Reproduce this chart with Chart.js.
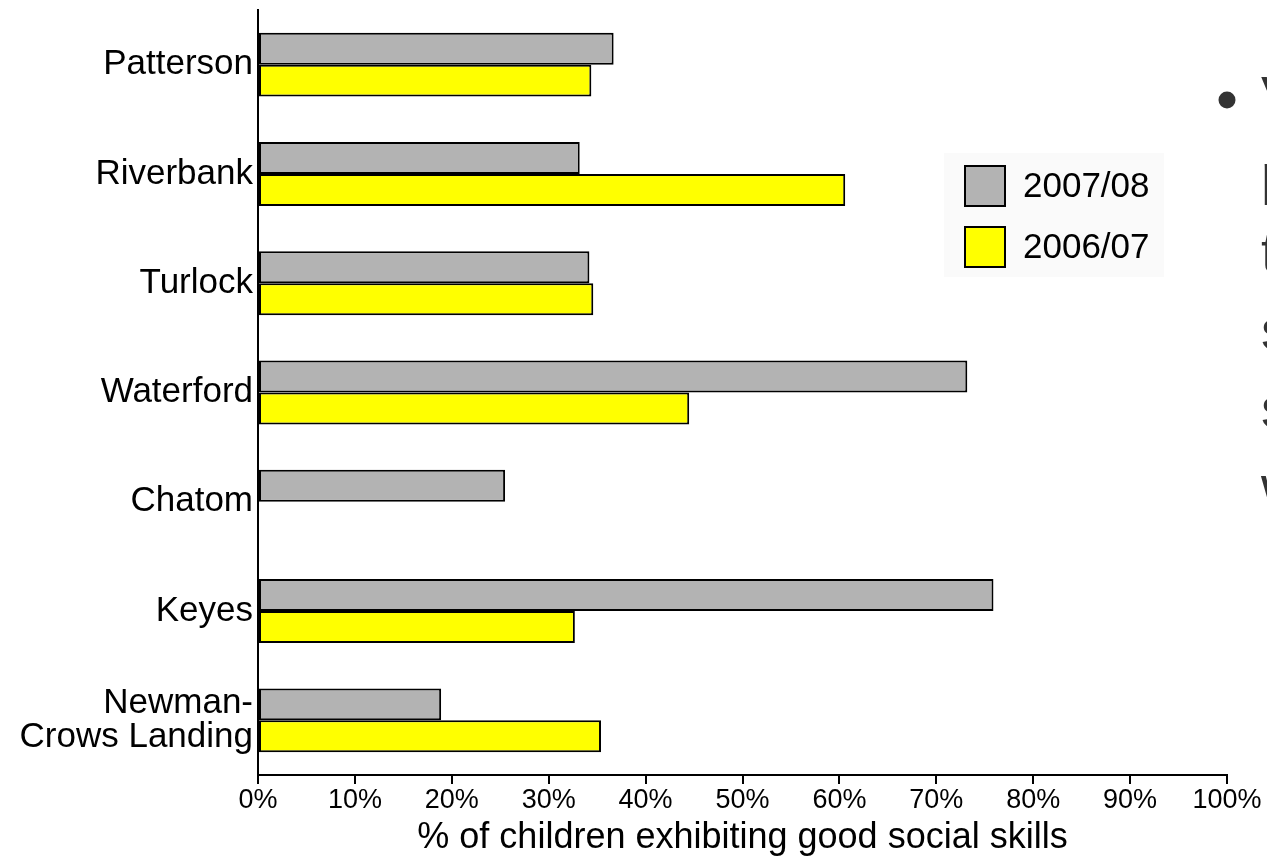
<!DOCTYPE html>
<html>
<head>
<meta charset="utf-8">
<script src="https://cdn.jsdelivr.net/npm/chart.js@4.4.0/dist/chart.umd.min.js"></script>
<style>
    html, body { margin: 0; padding: 0; background: #ffffff; }
    #wrap { width: 1267px; height: 860px; position: relative; }
</style>
</head>
<body>
<div id="wrap"><canvas id="chart"></canvas></div>
<script>
// categories, top to bottom
const schools = ['Patterson', 'Riverbank', 'Turlock', 'Waterford', 'Chatom', 'Keyes', ['Newman-', 'Crows Landing']];

// % of children exhibiting good social skills
const year0708 = [36.7, 33.2, 34.2, 73.2, 25.5, 75.9, 18.9];
const year0607 = [34.4, 60.6, 34.6, 44.5, null, 32.7, 35.4];

const seriesLabels = ['2007/08', '2006/07'];
const xTicks = [0, 10, 20, 30, 40, 50, 60, 70, 80, 90, 100];

// cut-off slide text on the right edge
const sideLines = ['Very', 'positive', 'trends', 'seen in', 'some', 'within'];

const FONT = "'Liberation Sans', Arial, sans-serif";

const sidePlugin = {
    id: 'sideStuff',
    afterDraw(chart) {
        const ctx = chart.ctx;
        ctx.save();

        // legend box
        ctx.fillStyle = '#fafafa';
        ctx.fillRect(944, 153, 220, 124);
        chart.data.datasets.forEach((ds, i) => {
            const y = 166 + i * 61;
            ctx.fillStyle = ds.backgroundColor;
            ctx.fillRect(965, y, 40, 40);
            ctx.lineWidth = 2;
            ctx.strokeStyle = '#000';
            ctx.strokeRect(965, y, 40, 40);
            ctx.fillStyle = '#000';
            ctx.font = '35px ' + FONT;
            ctx.textBaseline = 'middle';
            ctx.textAlign = 'left';
            ctx.fillText(ds.label, 1023, y + 21);
        });

        // bullet + text cut by the right border
        ctx.fillStyle = '#333333';
        ctx.beginPath();
        ctx.arc(1227, 100, 8.5, 0, Math.PI * 2);
        ctx.fill();
        ctx.font = '56px ' + FONT;
        ctx.textBaseline = 'alphabetic';
        sideLines.forEach((t, i) => {
            ctx.fillText(t, 1261, 115 + i * 78);
        });
        ctx.restore();
    }
};

new Chart(document.getElementById('chart'), {
    type: 'bar',
    data: {
        labels: schools,
        datasets: [{
            label: seriesLabels[0],
            data: year0708,
            backgroundColor: '#b3b3b3',
            borderColor: '#000000',
            borderWidth: 2,
            borderSkipped: false
        }, {
            label: seriesLabels[1],
            data: year0607,
            backgroundColor: '#ffff00',
            borderColor: '#000000',
            borderWidth: 2,
            borderSkipped: false
        }]
    },
    options: {
        indexAxis: 'y',
        responsive: true,
        maintainAspectRatio: false,
        animation: false,
        categoryPercentage: 0.585,
        barPercentage: 1,
        layout: { padding: { left: 0, right: 40, top: 10, bottom: 0 } },
        plugins: {
            legend: { display: false },
            tooltip: { enabled: false }
        },
        scales: {
            x: {
                min: 0,
                max: 100,
                afterBuildTicks: scale => { scale.ticks = xTicks.map(v => ({ value: v })); },
                afterFit: scale => { scale.height = 85; },
                ticks: {
                    color: '#000',
                    font: { family: FONT, size: 27 },
                    padding: 0,
                    maxRotation: 0,
                    autoSkip: false,
                    callback: v => v + '%'
                },
                grid: { drawOnChartArea: false, drawTicks: true, tickLength: 9, color: '#000', lineWidth: 2 },
                border: { display: true, color: '#000', width: 2 },
                title: {
                    display: true,
                    text: '% of children exhibiting good social skills',
                    color: '#000',
                    font: { family: FONT, size: 36 },
                    padding: { top: 0, bottom: 0 }
                }
            },
            y: {
                afterFit: scale => {
                    scale.width = 258;
                    scale.paddingTop = 0;
                    scale.paddingBottom = 0;
                },
                ticks: {
                    color: '#000',
                    font: { family: FONT, size: 35, lineHeight: 0.98 },
                    padding: 5,
                    autoSkip: false
                },
                grid: { drawOnChartArea: false, drawTicks: false },
                border: { display: true, color: '#000', width: 2 }
            }
        }
    },
    plugins: [sidePlugin]
});
</script>
</body>
</html>
